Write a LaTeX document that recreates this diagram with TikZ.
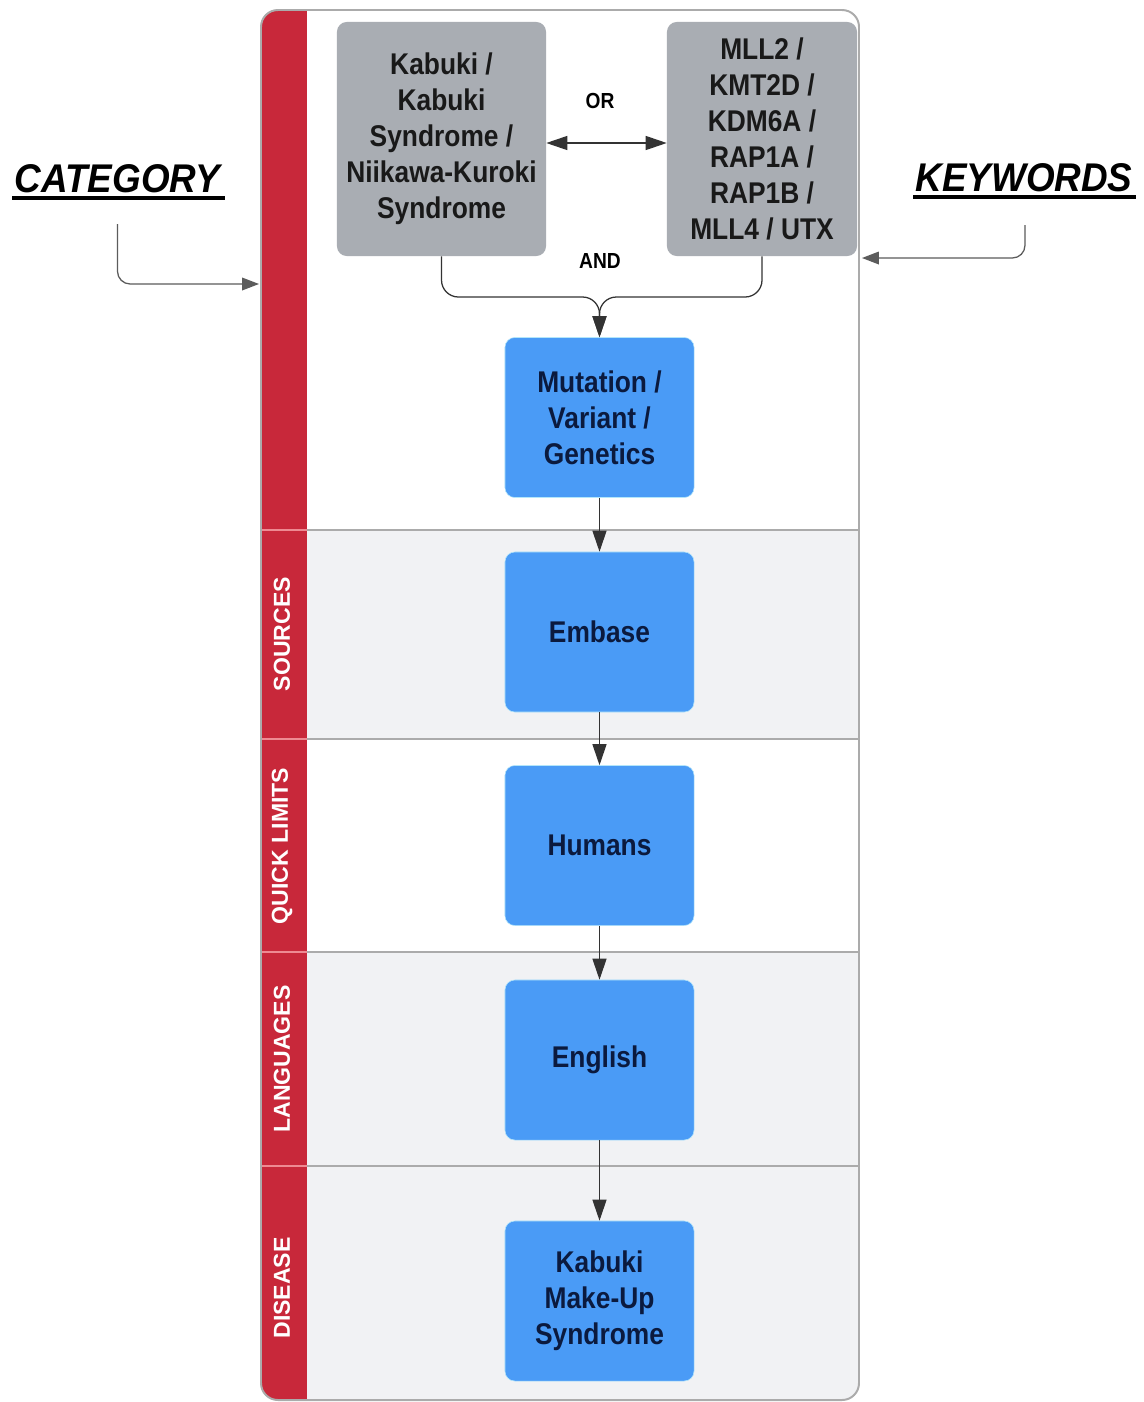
\documentclass[tikz,border=0pt]{standalone}
\usepackage{fontspec}
\setmainfont{Liberation Sans}
\newfontfamily\boxf[FakeStretch=0.88]{Liberation Sans}
\newfontfamily\titf[FakeStretch=0.92]{Liberation Sans}
\usetikzlibrary{arrows.meta,calc}
\definecolor{lanered}{HTML}{C8283A}
\definecolor{laneline}{HTML}{EE8A92}
\definecolor{blueb}{HTML}{4A9BF6}
\definecolor{grayb}{HTML}{A9ADB3}
\definecolor{lanegray}{HTML}{F1F2F4}
\definecolor{bordergray}{HTML}{ABABAB}
\definecolor{navy}{HTML}{0B1A3E}
\definecolor{conncol}{HTML}{333333}
\tikzset{
  boxtext/.style={font=\boxf\bfseries\fontsize{21.3}{25.6}\selectfont, align=center},
  graybox/.style={boxtext, fill=grayb, rounded corners=7pt, text=black!90, minimum height=5.85cm, inner sep=0pt},
  bluebox/.style={boxtext, fill=blueb, draw=cyan!30, line width=0.4pt, rounded corners=7pt, text=navy, minimum width=4.725cm, minimum height=4.0cm, inner sep=0pt},
  conn/.style={draw=conncol, line width=0.9pt, -{Triangle[length=15pt,width=10pt]}},
  sideconn/.style={draw=conncol!80, line width=0.9pt, rounded corners=9pt, -{Triangle[length=12pt,width=9pt]}},
  lanelabel/.style={rotate=90, text=white, font=\bfseries\fontsize{16.4}{19}\selectfont},
  smalllabel/.style={font=\boxf\bfseries\fontsize{15.5}{18}\selectfont},
  title/.style={font=\titf\bfseries\itshape\fontsize{28.5}{32}\selectfont, anchor=base, inner sep=0pt}
}
\begin{document}
\begin{tikzpicture}[x=0.025cm,y=-0.025cm]
\useasboundingbox (0,0) rectangle (1144,1402);
\fill[white] (0,0) rectangle (1144,1402);

% container and lanes
\begin{scope}
\clip[rounded corners=12] (261,10) rectangle (859,1400);
\fill[white] (261,10) rectangle (859,1400);
\fill[lanegray] (261,530) rectangle (859,739);
\fill[lanegray] (261,952) rectangle (859,1400);
\fill[lanered] (261,10) rectangle (307,1400);
\foreach \yy in {530,739,952,1166}{
  \draw[bordergray, line width=1.4pt] (307,\yy) -- (859,\yy);
  \draw[laneline, line width=1pt] (261,\yy) -- (307,\yy);
}
\end{scope}
\draw[bordergray, line width=1.4pt, rounded corners=12] (261,10) rectangle (859,1400);

% lane labels
\node[lanelabel] (lsrc) at (282,634) {SOURCES};
\node[lanelabel] (lql) at (282,846) {QUICK LIMITS};
\node[lanelabel] (llang) at (282,1059) {LANGUAGES};
\node[lanelabel] (ldis) at (282,1288) {DISEASE};

% boxes
\node[graybox, minimum width=5.225cm] (gl) at (441.5,139) {Kabuki /\\Kabuki\\Syndrome /\\Niikawa-Kuroki\\Syndrome};
\node[graybox, minimum width=4.75cm] (gr) at (762,139) {MLL2 /\\KMT2D /\\KDM6A /\\RAP1A /\\RAP1B /\\MLL4 / UTX};
\node[bluebox] (mut) at (599.5,417.5) {Mutation /\\Variant /\\Genetics};
\node[bluebox] (emb) at (599.5,632) {Embase};
\node[bluebox] (hum) at (599.5,845.5) {Humans};
\node[bluebox] (eng) at (599.5,1060) {English};
\node[bluebox] (kab) at (599.5,1301) {Kabuki\\Make-Up\\Syndrome};

% labels
\node[smalllabel] (orl) at (600,101) {OR};
\node[smalllabel] (andl) at (600,261) {AND};

% connectors
\draw[conn, {Triangle[length=15pt,width=10pt]}-{Triangle[length=15pt,width=10pt]}] ($(gl.east)+(0,4)$) -- ($(gr.west)+(0,4)$);
\coordinate (mg) at (599.5,297);
\draw[conn, rounded corners=12] (gl.south) |- (mg) -- (mut.north);
\draw[conn, rounded corners=12] (gr.south) |- (mg) -- (mut.north);
\draw[conn] (mut.south) -- (emb.north);
\draw[conn] (emb.south) -- (hum.north);
\draw[conn] (hum.south) -- (eng.north);
\draw[conn] (eng.south) -- (kab.north);

% titles
\node[title] (cat) at (117.5,192) {CATEGORY};
\draw[black, line width=2.6pt] ($(cat.base west)+(-2,6)$) -- ($(cat.base east)+(4,6)$);
\node[title] (kw) at (1024,191) {KEYWORDS};
\draw[black, line width=2.6pt] ($(kw.base west)+(-2,6)$) -- ($(kw.base east)+(3,6)$);

\coordinate (catS) at (117.5,224);
\coordinate (catT) at (259,284);
\coordinate (kwS) at (1025,225);
\coordinate (kwT) at (862,258);
\draw[sideconn] (catS) |- (catT);
\draw[sideconn] (kwS) |- (kwT);
\end{tikzpicture}
\end{document}
